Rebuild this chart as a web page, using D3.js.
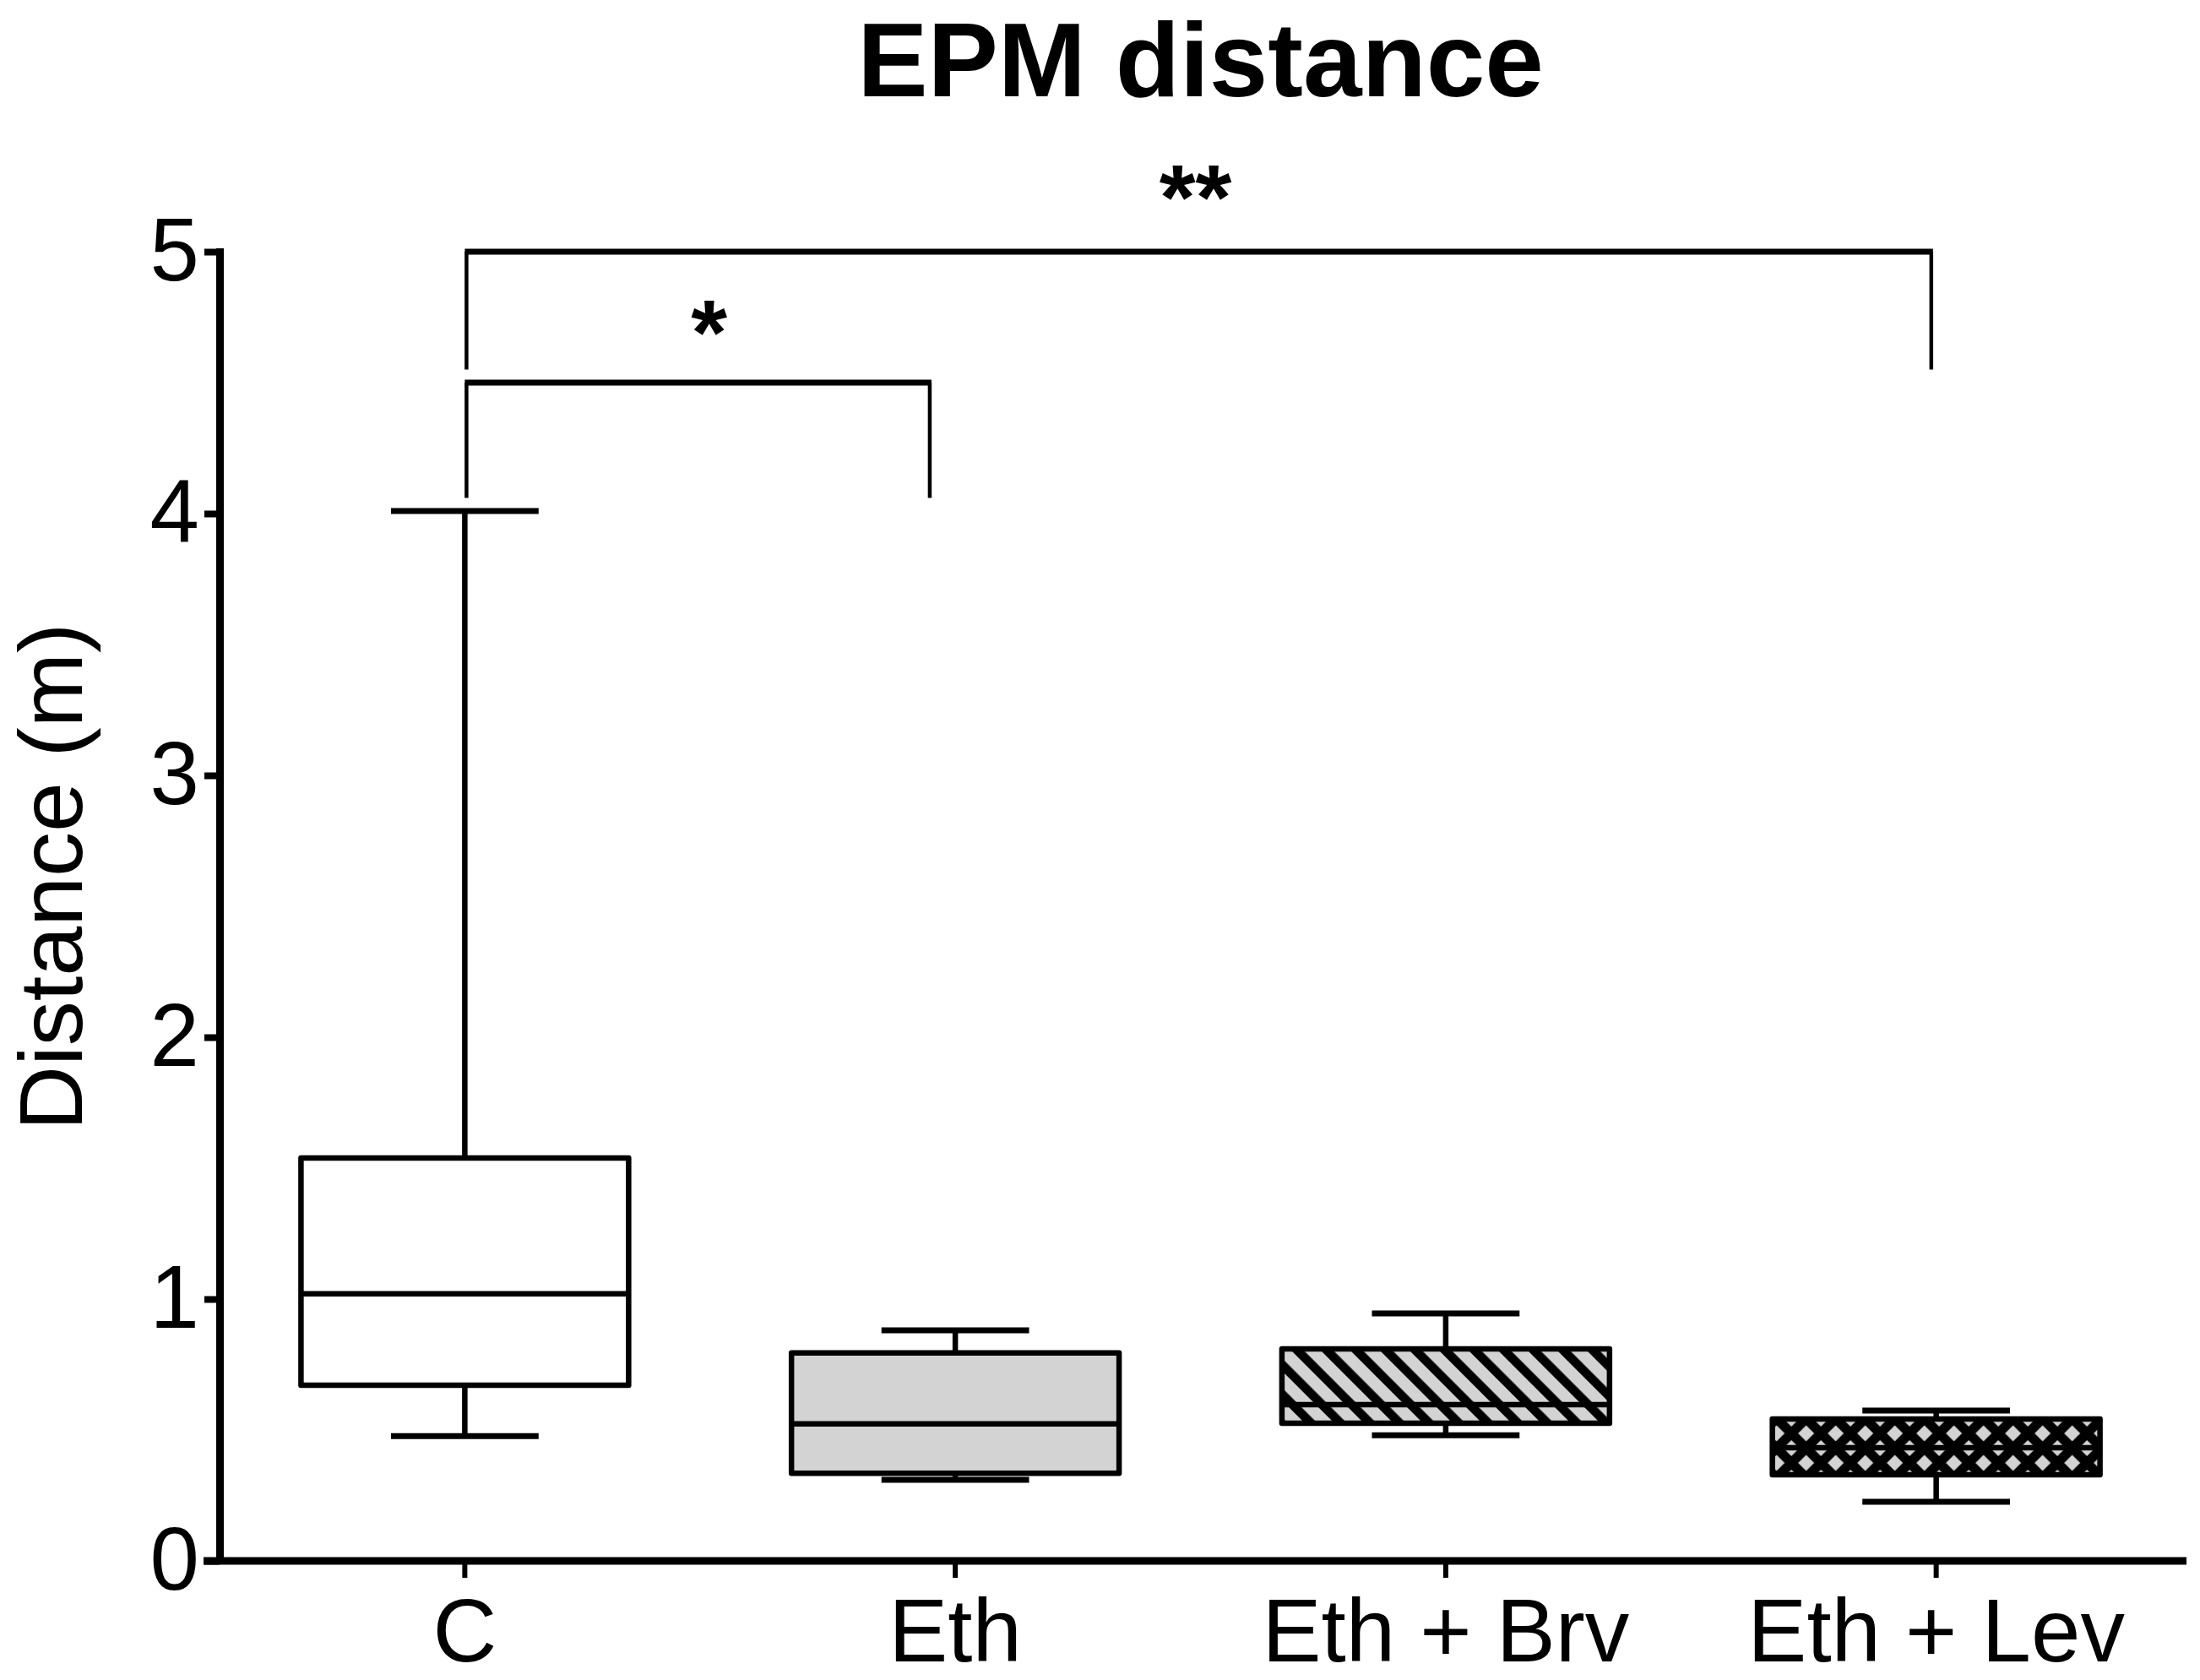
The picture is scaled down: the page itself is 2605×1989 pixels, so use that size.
<!DOCTYPE html>
<html>
<head>
<meta charset="utf-8">
<script src="https://cdn.jsdelivr.net/npm/d3@7"></script>
<style>
  html, body { margin: 0; padding: 0; background: #fff; }
  svg { display: block; }
  text { font-family: "Liberation Sans", Arial, Helvetica, sans-serif; fill: #000; }
</style>
</head>
<body>
<svg id="chart" width="2605" height="1989"></svg>
<script>
// ---------------- data ----------------
const categories   = ["C", "Eth", "Eth + Brv", "Eth + Lev"];
const whiskerLow   = [0.477, 0.310, 0.480, 0.226];
const quartile1    = [0.671, 0.335, 0.526, 0.329];
const medians      = [1.020, 0.523, 0.597, 0.432];
const quartile3    = [1.539, 0.794, 0.810, 0.542];
const whiskerHigh  = [4.010, 0.881, 0.945, 0.574];
const fills        = ["white", "gray", "hatch", "cross"];
const yTicks       = [0, 1, 2, 3, 4, 5];
const yTickLabels  = ["0", "1", "2", "3", "4", "5"];
const comparisons  = [
  { from: "C", to: "Eth",       toShift: -0.052, level: 4.50, drop: 4.06, label: "*"  },
  { from: "C", to: "Eth + Lev", toShift: -0.010, level: 5.00, drop: 4.55, label: "**" }
];
const titleText  = "EPM distance";
const yAxisTitle = "Distance (m)";

// ---------------- layout ----------------
const svg = d3.select("#chart");
const x = d3.scaleBand().domain(categories).range([260, 2583]).paddingInner(0).paddingOuter(0);
const y = d3.scaleLinear().domain([0, 5]).range([1848, 298]);
const bw = x.bandwidth();
const cx = c => x(c) + bw / 2;
const boxW = bw * 0.668;
const capW = bw * 0.301;

// ---------------- patterns ----------------
const defs = svg.append("defs");
const hatch = defs.append("pattern").attr("id", "hatch")
  .attr("patternUnits", "userSpaceOnUse")
  .attr("width", 24.75).attr("height", 24.75)
  .attr("patternTransform", "rotate(-45)");
hatch.append("rect").attr("width", 24.75).attr("height", 24.75).attr("fill", "#d3d3d3");
hatch.append("rect").attr("x", 0).attr("width", 10.6).attr("height", 24.75).attr("fill", "#000");

const levIdx = 3;
const levLeft = cx(categories[levIdx]) - boxW / 2;
const levTop = y(quartile3[levIdx]);
const cross = defs.append("pattern").attr("id", "cross")
  .attr("patternUnits", "userSpaceOnUse")
  .attr("x", levLeft + 5).attr("y", levTop + 17)
  .attr("width", 35).attr("height", 35);
cross.append("rect").attr("width", 35).attr("height", 35).attr("fill", "#000");
const dh = 9.5;
[[0,0],[35,0],[0,35],[35,35],[17.5,17.5]].forEach(([px, py]) => {
  cross.append("path")
    .attr("d", `M${px-dh},${py}L${px},${py-dh}L${px+dh},${py}L${px},${py+dh}Z`)
    .attr("fill", "#d3d3d3");
});

const fillOf = f => f === "white" ? "#ffffff" : f === "gray" ? "#d3d3d3" : `url(#${f})`;

// ---------------- boxes ----------------
const data = categories.map((c, i) => ({
  c, lo: whiskerLow[i], q1: quartile1[i], med: medians[i], q3: quartile3[i], hi: whiskerHigh[i], fill: fills[i]
}));

const g = svg.append("g");
const groups = g.selectAll("g.box").data(data).join("g").attr("class", "box");
const lw = 6.5;

// whiskers
groups.append("line")
  .attr("x1", d => cx(d.c)).attr("x2", d => cx(d.c))
  .attr("y1", d => y(d.q3)).attr("y2", d => y(d.hi))
  .attr("stroke", "#000").attr("stroke-width", lw);
groups.append("line")
  .attr("x1", d => cx(d.c)).attr("x2", d => cx(d.c))
  .attr("y1", d => y(d.q1)).attr("y2", d => y(d.lo))
  .attr("stroke", "#000").attr("stroke-width", lw);
// caps
groups.append("line")
  .attr("x1", d => cx(d.c) - capW / 2).attr("x2", d => cx(d.c) + capW / 2)
  .attr("y1", d => y(d.hi)).attr("y2", d => y(d.hi))
  .attr("stroke", "#000").attr("stroke-width", 7);
groups.append("line")
  .attr("x1", d => cx(d.c) - capW / 2).attr("x2", d => cx(d.c) + capW / 2)
  .attr("y1", d => y(d.lo)).attr("y2", d => y(d.lo))
  .attr("stroke", "#000").attr("stroke-width", 7);
// box
groups.append("rect")
  .attr("x", d => cx(d.c) - boxW / 2)
  .attr("width", boxW)
  .attr("y", d => y(d.q3))
  .attr("height", d => y(d.q1) - y(d.q3))
  .attr("fill", d => fillOf(d.fill))
  .attr("stroke", "#000").attr("stroke-width", lw)
  .attr("stroke-linejoin", "round");
// median
groups.append("line")
  .attr("x1", d => cx(d.c) - boxW / 2).attr("x2", d => cx(d.c) + boxW / 2)
  .attr("y1", d => y(d.med)).attr("y2", d => y(d.med))
  .attr("stroke", "#000").attr("stroke-width", lw);

// ---------------- axes ----------------
const yAxis = d3.axisLeft(y).tickValues(yTicks).tickFormat((d, i) => yTickLabels[i])
  .tickSize(18).tickSizeOuter(0).tickPadding(6);
const yg = svg.append("g").attr("transform", "translate(260,0)").call(yAxis);
yg.select(".domain").attr("stroke", "#000").attr("stroke-width", 9)
  .attr("d", `M0.5,${y(5) - 4}V${y(0)}`);
yg.selectAll(".tick line").attr("stroke", "#000").attr("stroke-width", 8);
yg.selectAll(".tick text").attr("font-size", 105).attr("font-family", "Liberation Sans, Arial, sans-serif").attr("fill", "#000");

const xAxis = d3.axisBottom(x).tickSize(20).tickSizeOuter(0).tickPadding(24);
const xg = svg.append("g").attr("transform", `translate(0,${y(0)})`).call(xAxis);
xg.select(".domain").remove();
xg.selectAll(".tick line").attr("stroke", "#000").attr("stroke-width", 6);
xg.selectAll(".tick text").attr("font-size", 105).attr("font-family", "Liberation Sans, Arial, sans-serif").attr("fill", "#000");
svg.append("line")
  .attr("x1", 260 - 19).attr("x2", x.range()[1] + 6)
  .attr("y1", y(0)).attr("y2", y(0))
  .attr("stroke", "#000").attr("stroke-width", 9);

// ---------------- significance brackets ----------------
const bg = svg.append("g");
comparisons.forEach((cmp, i) => {
  const x1 = cx(cmp.from) + 2;
  const x2 = cx(cmp.to) + cmp.toShift * bw;
  const yl = y(cmp.level);
  bg.append("line").attr("x1", x1 - 2).attr("x2", x2 + 2).attr("y1", yl).attr("y2", yl)
    .attr("stroke", "#000").attr("stroke-width", 7);
  bg.append("line").attr("x1", x1).attr("x2", x1).attr("y1", yl).attr("y2", y(cmp.drop))
    .attr("stroke", "#000").attr("stroke-width", 4.5);
  bg.append("line").attr("x1", x2).attr("x2", x2).attr("y1", yl).attr("y2", y(cmp.drop))
    .attr("stroke", "#000").attr("stroke-width", 4.5);
  bg.append("text")
    .attr("x", (x1 + x2) / 2 + (cmp.label === "*" ? 13 : -4))
    .attr("y", yl - (cmp.label === "*" ? 22 : 27))
    .attr("text-anchor", "middle")
    .attr("font-size", 110).attr("font-weight", "bold")
    .text(cmp.label);
});

// ---------------- titles ----------------
svg.append("text")
  .attr("x", (x.range()[0] + x.range()[1]) / 2).attr("y", 114)
  .attr("text-anchor", "middle").attr("font-size", 125).attr("font-weight", "bold")
  .text(titleText);
svg.append("text")
  .attr("transform", `translate(97,1038) rotate(-90)`)
  .attr("text-anchor", "middle").attr("font-size", 106)
  .text(yAxisTitle);
</script>
</body>
</html>
